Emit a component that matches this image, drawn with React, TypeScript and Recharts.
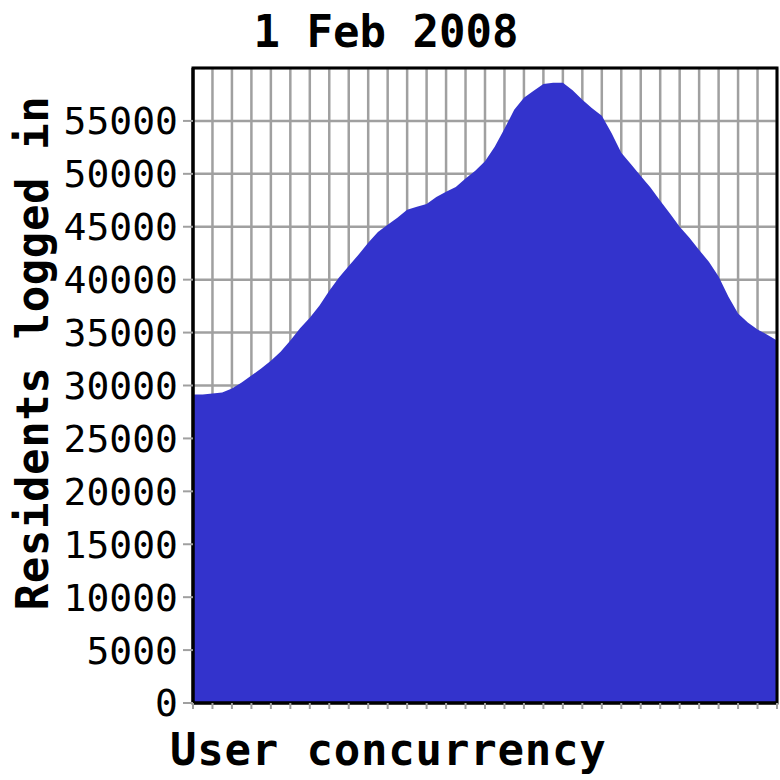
import React from "react";
import {
  AreaChart,
  Area,
  XAxis,
  YAxis,
  CartesianGrid,
  ReferenceArea,
} from "recharts";

// one sample every half grid step across the day
const SLOTS: number[] = Array.from({ length: 61 }, (_, i) => i);

const RESIDENTS: number[] = [
  29150, 29150, 29250, 29340, 29720, 30280, 30940, 31600, 32350, 33200,
  34250, 35400, 36400, 37550, 38950, 40200, 41300, 42350, 43500, 44500,
  45200, 45850, 46600, 46900, 47150, 47800, 48300, 48750, 49550, 50300,
  51200, 52550, 54250, 56050, 57200, 57850, 58500, 58600, 58600, 57900,
  57000, 56200, 55500, 53850, 52000, 50900, 49800, 48700, 47450, 46250,
  45000, 43950, 42800, 41700, 40300, 38400, 36800, 35950, 35300, 34800,
  34250,
];

const Y_TICKS = [0, 5000, 10000, 15000, 20000, 25000, 30000, 35000, 40000, 45000, 50000, 55000];
const X_TICKS = SLOTS.filter((s) => s % 2 === 0);

const TITLE = "1 Feb 2008";
const X_LABEL = "User concurrency";
const Y_LABEL = "Residents logged in";

const FILL = "#3333cc";
const GRID = "#a0a0a0";
const MONO = "'DejaVu Sans Mono', monospace";

const data = SLOTS.map((s, i) => ({ slot: s, residents: RESIDENTS[i] }));

export default function App(): React.JSX.Element {
  return (
    <div style={{ position: "absolute", left: 0, top: 0, width: 780, height: 780, background: "#fff" }}>
      <AreaChart
        width={780}
        height={780}
        data={data}
        margin={{ top: 68, right: 3, left: 0, bottom: 67 }}
      >
        <CartesianGrid stroke={GRID} strokeWidth={2.5} />
        <XAxis
          dataKey="slot"
          type="number"
          domain={[0, 60]}
          ticks={X_TICKS}
          interval={0}
          tickFormatter={() => ""}
          tickSize={6}
          height={10}
          axisLine={{ stroke: "#000", strokeWidth: 3 }}
          tickLine={{ stroke: GRID, strokeWidth: 2 }}
        />
        <YAxis
          type="number"
          domain={[0, 60000]}
          ticks={Y_TICKS}
          width={193}
          tickSize={10}
          tickMargin={5}
          interval={0}
          tick={{ fill: "#000", fontSize: 38, fontFamily: MONO }}
          axisLine={{ stroke: "#000", strokeWidth: 3 }}
          tickLine={{ stroke: GRID, strokeWidth: 2 }}
        />
        <Area
          type="linear"
          dataKey="residents"
          stroke="none"
          fill={FILL}
          fillOpacity={1}
          isAnimationActive={false}
        />
        <ReferenceArea
          x1={0}
          x2={60}
          y1={0}
          y2={60000}
          fill="none"
          fillOpacity={0}
          stroke="#000"
          strokeWidth={3}
          ifOverflow="visible"
        />
      </AreaChart>
      <svg
        width={780}
        height={780}
        style={{ position: "absolute", left: 0, top: 0, pointerEvents: "none" }}
      >
        <text x={386} y={47} textAnchor="middle" fontFamily={MONO} fontWeight="bold" fontSize={44}>
          {TITLE}
        </text>
        <text x={170} y={765} fontFamily={MONO} fontWeight="bold" fontSize={44} letterSpacing={0.8}>
          {X_LABEL}
        </text>
        <text
          transform="translate(48 353) rotate(-90)"
          textAnchor="middle"
          fontFamily={MONO}
          fontWeight="bold"
          fontSize={44}
          letterSpacing={0.6}
        >
          {Y_LABEL}
        </text>
      </svg>
    </div>
  );
}
